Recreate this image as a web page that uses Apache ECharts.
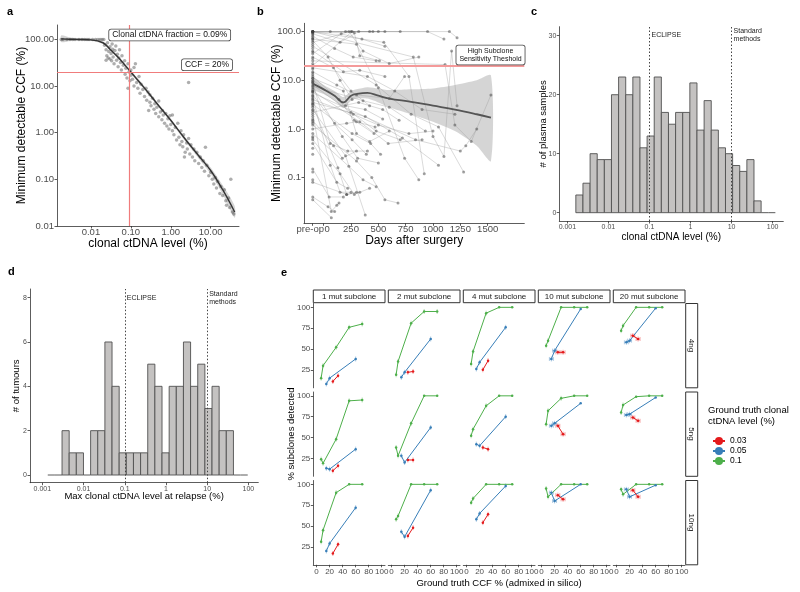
<!DOCTYPE html>
<html>
<head>
<meta charset="utf-8">
<script src="https://cdn.jsdelivr.net/npm/echarts@6/dist/echarts.min.js"></script>
<style>
html,body{margin:0;padding:0;background:#fff;}
#main{width:800px;height:592px;}
</style>
</head>
<body>
<div id="main"></div>
<script>
// ---- panel a: clonal ctDNA level (%) vs minimum detectable CCF (%) ----
var aPoints = [
  [0.0018,100],[0.002,100],[0.0025,100],[0.003,100],[0.0035,100],[0.004,100],[0.005,100],[0.006,100],
  [0.007,100],[0.008,100],[0.009,100],[0.011,100],[0.013,100],[0.015,100],[0.017,100],[0.019,100],[0.021,100],
  [0.022,75],[0.024,60],[0.025,45],[0.026,85],[0.028,55],[0.03,70],[0.03,38],[0.032,50],[0.034,80],[0.035,62],
  [0.036,42],[0.038,30],[0.04,58],[0.042,72],[0.044,36],[0.046,48],[0.048,26],[0.05,40],[0.052,60],[0.055,32],
  [0.058,22],[0.06,45],[0.024,36],[0.027,40],[0.033,35],
  [0.065,28],[0.07,35],[0.072,18],[0.075,24],[0.08,15],[0.085,30],[0.09,20],[0.095,13],[0.1,22],[0.1,17],
  [0.11,14],[0.12,25],[0.12,10],[0.13,30],[0.14,12],[0.15,9],[0.16,16],[0.17,7],[0.18,11],[0.2,8.5],[0.085,9],
  [0.22,6],[0.24,9],[0.25,5],[0.27,7.5],[0.3,4.5],[0.3,6.5],[0.32,3.8],[0.35,5.5],[0.38,3.2],[0.4,4.2],[0.42,2.6],
  [0.45,3.5],[0.5,2.2],[0.5,4.8],[0.55,2.8],[0.6,1.9],[0.62,3],[0.65,2.4],[0.7,1.6],[0.75,2.6],[0.8,1.4],[0.85,2],
  [0.9,1.2],[0.95,2.3],[1,1.5],[0.28,3],
  [1.1,1.1],[1.1,2.4],[1.2,0.9],[1.3,1.3],[1.4,0.7],[1.5,1.6],[1.6,0.8],[1.7,0.55],[1.8,1.1],[2.8,12],[2,0.5],
  [2.1,0.9],[2.3,0.38],[2.5,0.6],[2.6,0.45],[2.8,0.75],[3,0.35],[3.2,0.55],[3.5,0.3],[3.8,0.45],[4,0.25],[4.5,0.38],
  [5,0.22],[2.2,0.3],[1.9,0.65],
  [5.5,0.3],[6,0.18],[6.5,0.25],[7,0.15],[7.4,0.49],[8,0.2],[9,0.12],[10,0.14],[11,0.1],[12,0.08],[13,0.11],
  [14,0.065],[15,0.09],[17,0.05],[18,0.07],[20,0.045],[22,0.06],[24,0.035],[25,0.028],[28,0.04],[30,0.025],
  [35,0.02],[38,0.018],[32,0.1]
];
var aFitX  = [0.0018, 0.003, 0.005, 0.01, 0.02, 0.03, 0.05, 0.1, 0.2, 0.5, 1, 2, 5, 10, 20, 40];
var aFitY  = [103, 101, 100, 98, 85, 62, 40, 20, 10, 3.8, 1.85, 0.85, 0.32, 0.155, 0.06, 0.02];
var aFitLo = [88, 93, 95, 94, 80, 58, 37, 18.5, 9.2, 3.5, 1.7, 0.77, 0.28, 0.13, 0.048, 0.015];
var aFitHi = [122, 110, 106, 103, 90, 66, 43, 21.5, 10.9, 4.1, 2.0, 0.93, 0.36, 0.18, 0.075, 0.027];
var aClonalCut = 0.09, aCcfCut = 20;

// ---- panel b: days after surgery (pre-op drawn at -100) ----
var bPreop = -100;
var bDayTicks = [0, 250, 500, 750, 1000, 1250, 1500];
var bTracks = [
  [[-100,100],[60,100],[250,100],[500,100]],
  [[-100,100],[200,100],[420,100],[700,100]],
  [[-100,90],[150,60],[320,100],[560,100]],
  [[-100,80],[100,45],[270,30],[480,25]],
  [[-100,100],[950,100],[1100,70]],
  [[-100,100],[1150,100],[1220,75]],
  [[-100,60],[230,100],[360,40],[600,22],[870,30]],
  [[-100,40],[180,15],[330,16],[560,12]],
  [[-100,30],[90,18],[250,6],[420,3]],
  [[-100,20],[260,100],[450,100]],
  [[-100,15],[120,8],[300,5],[600,4.2],[740,12]],
  [[-100,12],[200,3],[380,2.5],[540,1.6]],
  [[-100,10],[140,4],[280,1.5],[460,0.8]],
  [[-100,9],[60,0.5],[220,0.35],[400,0.35]],
  [[-100,8],[250,2.2],[480,0.9],[700,0.6]],
  [[-100,7],[170,0.7],[310,0.25],[500,0.2]],
  [[-100,6],[330,1.4],[590,0.5],[900,0.6]],
  [[-100,5],[100,1.3],[260,0.6],[390,0.3]],
  [[-100,4.5],[60,0.18],[150,0.05],[250,0.05]],
  [[-100,4],[270,2],[500,1.2],[780,0.8],[1000,0.9]],
  [[-100,3.5],[380,1.8],[720,0.65],[1050,0.18]],
  [[-100,3],[130,0.16],[210,0.045],[330,0.05]],
  [[-100,2.5],[200,0.28],[380,0.017]],
  [[-100,2],[70,0.02],[120,0.027],[140,0.03]],
  [[-100,1.5],[90,0.45],[170,0.25],[300,0.35]],
  [[-100,1.2],[300,0.22],[440,0.1],[560,0.035],[680,0.03]],
  [[-100,0.8],[230,0.17],[360,0.09],[480,0.065]],
  [[-100,0.6],[150,0.12],[280,0.045],[420,0.06]],
  [[-100,0.15],[50,0.04],[180,0.04]],
  [[-100,0.08],[210,0.045],[300,0.05]],
  [[-100,0.04],[40,0.025],[100,0.02]],
  [[-100,0.035],[70,0.015]],
  [[-100,100],[820,30],[1000,0.7],[1100,0.27],[1170,40],[1220,3]],
  [[-100,25],[1110,21],[1200,1.2],[1350,0.55],[1530,5]],
  [[-100,5.5],[840,0.6],[1250,0.35],[1300,0.45],[1400,1]],
  [[-100,50],[480,8],[800,2],[1050,1.1],[1280,0.13]],
  [[-100,18],[400,12],[650,6],[900,2.5],[1200,2]],
  [[-100,100],[550,60],[780,12],[920,0.12]],
  [[-100,70],[300,55],[500,7],[740,0.25],[870,0.09]],
  [[-100,35],[160,90],[350,70],[560,50]],
  [[-100,11],[180,6],[300,0.8],[420,0.55],[600,0.9]],
  [[-100,2.2],[320,3.5],[540,2.5],[690,1.5]],
  [[-100,1],[210,1.3],[300,1.4],[470,1.1]],
  [[-100,65],[40,30],[150,10],[260,4]],
  [[-100,95],[280,95],[330,32],[510,25]],
  [[-100,3.2],[260,0.8],[430,0.5],[520,0.3]],
  [[-100,0.5],[120,0.08],[220,0.06]],
  [[-100,7.5],[360,3.8],[600,2.8],[930,0.9]]
];
var bPreopOnly = [100,95,85,75,70,55,45,38,28,22,17,14,13,11,9.5,8.8,6.5,6,5.8,4.8,4.2,3.8,3.3,2.8,2.4,1.8,1.6,1.4,1.3,0.7,0.65,0.4,0.3,0.13,0.09];
var bFitDays = [-100, 0, 100, 180, 250, 300, 400, 500, 600, 800, 1000, 1200, 1400, 1530];
var bFitY    = [8.5, 6.5, 4.8, 3.5, 4.8, 5.2, 5.5, 4.8, 4.2, 3.6, 3.0, 2.5, 2.0, 1.7];
var bFitLo   = [6.5, 5.2, 3.8, 2.7, 3.8, 4.2, 4.2, 3.5, 2.8, 2.0, 1.4, 0.9, 0.45, 0.22];
var bFitHi   = [11, 8, 6, 4.5, 6, 6.5, 7.2, 6.8, 6.3, 6.5, 6.8, 8, 10, 12.5];
var bThreshold = 20;

// ---- panels c, d: histograms on log10 bins ----
var cBinLo = -2.794, cBinW = 0.1736;
var cCounts = [3,5,10,9,9,20,23,20,23,11,13,23,17,15,17,17,22,14,19,14,11,10,8,7,9,2,0,0];
var dBinLo = -2.869, dBinW = 0.1733;
var dCounts = [0,0,2,1,1,0,2,2,6,4,1,1,1,1,5,4,1,4,4,6,4,5,3,4,2,2,0,0];
var cutLines = [0.1, 10];
var logTickText = ['0.001','0.01','0.1','1','10','100'];

// ---- panel e: % subclones detected vs ground-truth CCF ----
var eCols = ['1 mut subclone','2 mut subclone','4 mut subclone','10 mut subclone','20 mut subclone'];
var eRows = ['4ng','5ng','10ng'];
var eX01  = [7, 10, 30, 50, 70];
var eX005 = [15, 20, 60];
var eX003 = [25, 33];
var eY01 = [
  [[15,30,52,76,80],[19,35,81,95,95],[32,47,93,100,100],[54,60,100,100,100],[72,78,100,100,100]],
  [[24,19,48,94,95],[38,28,67,100,100],[52,60,88,100,100],[66,82,97,100,100],[80,89,99,100,100]],
  [[31,45,90,100,100],[58,62,100,100,100],[78,83,100,100,100],[95,85,100,100,100],[94,88,100,100,100]]
];
var eY005 = [
  [[8,15,38],[16,22,62],[26,34,76],[38,48,98],[58,60,99]],
  [[13,12,36],[28,20,62],[42,40,75],[64,67,91],[77,78,98]],
  [[20,29,72],[43,37,93],[58,65,98],[90,80,100],[94,85,99]]
];
var eY003 = [
  [[11,18],[22,23],[25,36],[46,46],[66,62]],
  [[10,16],[23,23],[38,36],[64,54],[74,70]],
  [[17,28],[38,48],[54,64],[87,82],[93,85]]
];
var eErrY = 3;   // typical half-height of the error bars (% detected)
var eErrX = 3;   // half-width of the horizontal bars on the low-level points (CCF %)
var eLevels = ['0.03','0.05','0.1'];
var eColors = {'0.03':'#E41A1C','0.05':'#377EB8','0.1':'#4DAF4A'};

// ------------------------------------------------------------------
(function () {
var L = Math.log10;
var FONT = 'Liberation Sans, Arial, Helvetica, sans-serif';
var INK = '#333333', TICK = '#4d4d4d';
var chart = echarts.init(document.getElementById('main'));
var grids = [], xAxes = [], yAxes = [], series = [], graphic = [], extraX = [];

function ax(gi, min, max, vals, fmt, fs, show, extra, margin) {
  var lab = {show: show[2], customValues: vals, fontSize: fs, color: TICK,
             margin: margin == null ? 3 : margin, hideOverlap: false, fontFamily: FONT};
  if (fmt) lab.formatter = fmt;
  return Object.assign({
    type: 'value', gridIndex: gi, min: min, max: max,
    axisLine: {show: show[0], onZero: false, lineStyle: {color: INK, width: 0.8}},
    axisTick: {show: show[1], length: 2.5, customValues: vals, lineStyle: {color: INK, width: 0.8}},
    axisLabel: lab,
    splitLine: {show: false}
  }, extra || {});
}
function nm(text, gap, fs) {
  return {name: text, nameLocation: 'middle', nameGap: gap, nameMoveOverlap: false,
          nameTextStyle: {fontSize: fs, color: '#000', fontFamily: FONT}};
}
function addGrid(l, t, w, h) {
  grids.push({left: l, top: t, width: w, height: h, outerBoundsMode: 'none', containLabel: false});
  return grids.length - 1;
}
function band(gi, xs, lo, hi, fill) {
  return {type: 'custom', xAxisIndex: gi, yAxisIndex: gi, silent: true, z: 1, data: [[xs[0], lo[0]]],
    renderItem: function (p, api) {
      var pts = [], i;
      for (i = 0; i < xs.length; i++) pts.push(api.coord([xs[i], lo[i]]));
      for (i = xs.length - 1; i >= 0; i--) pts.push(api.coord([xs[i], hi[i]]));
      return {type: 'polygon', shape: {points: pts, smooth: 0.25}, style: {fill: fill}};
    }};
}
function hist(gi, lo, w, counts) {
  return {type: 'custom', xAxisIndex: gi, yAxisIndex: gi, silent: true,
    data: counts.map(function (c, i) { return [lo + i * w, lo + (i + 1) * w, c]; }),
    encode: {x: [0, 1], y: 2},
    renderItem: function (p, api) {
      var a = api.coord([api.value(0), 0]), b = api.coord([api.value(1), api.value(2)]);
      if (api.value(2) === 0)
        return {type: 'line', shape: {x1: a[0], y1: a[1], x2: b[0], y2: a[1]}, style: {stroke: '#5a5a5a', lineWidth: 1}};
      return {type: 'rect', shape: {x: a[0], y: b[1], width: b[0] - a[0], height: a[1] - b[1]},
              style: {fill: '#c4c2c1', stroke: '#505050', lineWidth: 0.9}};
    }};
}
function cutMarks(gi, topY) {
  return {type: 'scatter', xAxisIndex: gi, yAxisIndex: gi, data: [], silent: true,
    markLine: {silent: true, symbol: 'none', label: {show: false}, animation: false,
      lineStyle: {color: '#444', type: [1.5, 2], width: 1},
      data: cutLines.map(function (v) { return {xAxis: L(v)}; })},
    markPoint: {symbolSize: 0, silent: true, animation: false,
      label: {show: true, position: 'right', distance: 2, fontSize: 7, lineHeight: 8, color: '#222', fontFamily: FONT},
      data: [{coord: [L(cutLines[0]), topY], label: {formatter: 'ECLIPSE'}},
             {coord: [L(cutLines[1]), topY], label: {formatter: 'Standard\nmethods'}}]}};
}
function errBars(gi, pts, color, horiz) {
  return {type: 'custom', xAxisIndex: gi, yAxisIndex: gi, silent: true, z: 1,
    data: pts, encode: {x: 0, y: 1},
    renderItem: function (p, api) {
      var x = api.value(0), y = api.value(1), kids = [];
      var st = {stroke: color, lineWidth: 1, opacity: 0.4};
      if (y < 99) {
        var a = api.coord([x, y - eErrY]), b = api.coord([x, y + eErrY]);
        kids.push({type: 'line', shape: {x1: a[0], y1: a[1], x2: b[0], y2: b[1]}, style: st});
      }
      if (horiz) {
        var c = api.coord([x - eErrX, y]), d = api.coord([x + eErrX, y]);
        kids.push({type: 'line', shape: {x1: c[0], y1: c[1], x2: d[0], y2: d[1]}, style: st});
        kids.push({type: 'line', shape: {x1: c[0], y1: c[1] - 2, x2: c[0], y2: c[1] + 2}, style: st});
        kids.push({type: 'line', shape: {x1: d[0], y1: d[1] - 2, x2: d[0], y2: d[1] + 2}, style: st});
      }
      return {type: 'group', children: kids};
    }};
}
function panelLabel(t, x, y) {
  graphic.push({type: 'text', left: x, top: y, style: {text: t, font: 'bold 11px ' + FONT, fill: '#000'}});
}

// ---- a ----
var ga = addGrid(57, 25, 182, 201);
xAxes.push(ax(ga, -2.85, 1.71, [-2, -1, 0, 1], function (v) { return Math.pow(10, v).toFixed(2); }, 9.5,
  [true, true, true], nm('clonal ctDNA level (%)', 12, 12), 1.5));
yAxes.push(ax(ga, -2, 2.31, [-2, -1, 0, 1, 2], function (v) { return Math.pow(10, v).toFixed(2); }, 9.5,
  [true, true, true], nm('Minimum detectable CCF (%)', 29, 12), 3));
series.push(band(ga, aFitX.map(L), aFitLo.map(L), aFitHi.map(L), 'rgba(160,160,160,0.45)'));
series.push({type: 'scatter', xAxisIndex: ga, yAxisIndex: ga, symbolSize: 3.5, silent: true,
  itemStyle: {color: 'rgba(70,70,70,0.55)'},
  data: aPoints.map(function (p) { return [L(p[0]), L(p[1])]; }),
  markLine: {silent: true, symbol: 'none', label: {show: false}, animation: false,
    lineStyle: {color: '#f07c7c', type: 'solid', width: 1.2},
    data: [{xAxis: L(aClonalCut)}, {yAxis: L(aCcfCut)}]},
  markPoint: {symbolSize: 0, silent: true, animation: false,
    label: {show: true, position: 'inside', fontSize: 8.5, color: '#111', fontFamily: FONT,
      backgroundColor: '#fff', borderColor: '#444', borderWidth: 0.8, borderRadius: 2, padding: [1, 3]},
    data: [{coord: [-0.026, 2.096], label: {formatter: 'Clonal ctDNA fraction = ' + aClonalCut + '%'}},
           {coord: [0.908, 1.459], label: {formatter: 'CCF = ' + aCcfCut + '%'}}]}});
series.push({type: 'line', xAxisIndex: ga, yAxisIndex: ga, smooth: 0.4, showSymbol: false, silent: true, z: 3,
  lineStyle: {color: '#333', width: 1.4}, data: aFitX.map(function (x, i) { return [L(x), L(aFitY[i])]; })});

// ---- b ----
var gb = addGrid(304, 23.3, 220.3, 200);
xAxes.push(ax(gb, -180, 1835, bDayTicks,
  function (v) { var s = String(Math.round(v)); return s === '0' ? '{z|0}' : s; }, 9.5,
  [true, true, true], nm('Days after surgery', 11, 12), 1.5));
xAxes[xAxes.length - 1].axisLabel.rich = {z: {fontSize: 9.5, color: TICK, padding: [0, 0, 0, 7], fontFamily: FONT}};
extraX.push(ax(gb, -180, 1835, [bPreop], function () { return '{p|pre-op}'; }, 9.5, [false, true, true],
  {position: 'bottom'}, 1.5));
extraX[0].axisLabel.rich = {p: {fontSize: 9.5, color: TICK, padding: [0, 5, 0, 0], fontFamily: FONT}};
yAxes.push(ax(gb, -1.94, 2.17, [-1, 0, 1, 2], function (v) { return Math.pow(10, v).toFixed(1); }, 9.5,
  [true, true, true], nm('Minimum detectable CCF (%)', 21, 12), 3));
bTracks.forEach(function (t) {
  series.push({type: 'line', xAxisIndex: gb, yAxisIndex: gb, showSymbol: false, silent: true, z: 1,
    lineStyle: {color: 'rgba(150,150,150,0.45)', width: 0.8},
    data: t.map(function (p) { return [p[0], L(p[1])]; })});
});
var bAll = [];
bTracks.forEach(function (t) { t.forEach(function (p) { bAll.push([p[0], L(p[1])]); }); });
bPreopOnly.forEach(function (v) { bAll.push([bPreop, L(v)]); });
series.push({type: 'scatter', xAxisIndex: gb, yAxisIndex: gb, symbolSize: 3, silent: true, z: 2,
  itemStyle: {color: 'rgba(60,60,60,0.6)'}, data: bAll,
  markLine: {silent: true, symbol: 'none', label: {show: false}, animation: false,
    lineStyle: {color: '#f49a9a', type: 'solid', width: 2}, data: [{yAxis: L(bThreshold)}]},
  markPoint: {symbolSize: 0, silent: true, animation: false,
    label: {show: true, position: 'inside', fontSize: 7, lineHeight: 8.5, color: '#111', fontFamily: FONT,
      backgroundColor: '#fff', borderColor: '#444', borderWidth: 0.8, borderRadius: 2, padding: [1, 3]},
    data: [{coord: [1526, 1.519], label: {formatter: 'High Subclone\nSensitivity Theshold'}}]}});
series.push(band(gb, bFitDays, bFitLo.map(L), bFitHi.map(L), 'rgba(150,150,150,0.4)'));
series.push({type: 'line', xAxisIndex: gb, yAxisIndex: gb, smooth: 0.4, showSymbol: false, silent: true, z: 4,
  lineStyle: {color: '#555', width: 1.8}, data: bFitDays.map(function (d, i) { return [d, L(bFitY[i])]; })});

// ---- c ----
var gc = addGrid(559.3, 26.7, 224, 194.3);
xAxes.push(ax(gc, -3.197, 2.26, [-3, -2, -1, 0, 1, 2], function (v) { return logTickText[Math.round(v) + 3]; }, 7,
  [true, true, true], nm('clonal ctDNA level (%)', 11, 10)));
yAxes.push(ax(gc, -1.41, 31.53, [0, 10, 20, 30], null, 7, [true, true, true], nm('# of plasma samples', 11, 9.5)));
series.push(hist(gc, cBinLo, cBinW, cCounts));
series.push(cutMarks(gc, 30.1));

// ---- d ----
var gd = addGrid(30, 289, 228.3, 193.7);
xAxes.push(ax(gd, -3.30, 2.24, [-3, -2, -1, 0, 1, 2], function (v) { return logTickText[Math.round(v) + 3]; }, 7,
  [true, true, true], nm('Max clonal ctDNA level at relapse (%)', 9, 9.5)));
yAxes.push(ax(gd, -0.347, 8.39, [0, 2, 4, 6, 8], null, 7, [true, true, true], nm('# of tumours', 9, 9.5)));
series.push(hist(gd, dBinLo, dBinW, dCounts));
series.push(cutMarks(gd, 8.0));

// ---- e ----
for (var r = 0; r < 3; r++) {
  for (var c = 0; c < 5; c++) {
    var cellLeft = 313.3 + 75 * c, cellTop = 303.5 + 88.5 * r;
    var g = addGrid(cellLeft, cellTop, 71.7, 84.3);
    xAxes.push(ax(g, -5, 105, [0, 20, 40, 60, 80, 100], null, 8, [r === 2, r === 2, r === 2], {}));
    yAxes.push(ax(g, 3.4, 104.6, [25, 50, 75, 100], null, 8, [c === 0, c === 0, c === 0], {}));
    [['0.1', eX01, eY01], ['0.05', eX005, eY005], ['0.03', eX003, eY003]].forEach(function (s) {
      var ys = s[2][r][c];
      var pts = s[1].map(function (x, i) { return [x, ys[i]]; });
      var col = eColors[s[0]];
      series.push(errBars(g, s[0] === '0.05' && c >= 3 ? pts.slice(0, 2) : pts,
        col, s[0] === '0.03' ? c >= 3 : (s[0] === '0.05' && c >= 3)));
      series.push({type: 'line', name: s[0], xAxisIndex: g, yAxisIndex: g, silent: true, z: 2,
        symbol: 'circle', symbolSize: 2.5, showSymbol: true,
        lineStyle: {color: col, width: 1}, itemStyle: {color: col}, data: pts});
    });
    if (r === 0) {
      graphic.push({type: 'rect', shape: {x: cellLeft, y: 290, width: 71.7, height: 12.7},
        style: {fill: '#fff', stroke: INK, lineWidth: 1}});
      graphic.push({type: 'text', x: cellLeft + 35.85, y: 296.6,
        style: {text: eCols[c], font: '8px ' + FONT, fill: '#1a1a1a', align: 'center', verticalAlign: 'middle'}});
    }
    if (c === 4) {
      graphic.push({type: 'rect', shape: {x: 685.7, y: cellTop, width: 12, height: 84.3},
        style: {fill: '#fff', stroke: INK, lineWidth: 1}});
      graphic.push({type: 'text', x: 691.7, y: cellTop + 42, rotation: -Math.PI / 2,
        style: {text: eRows[r], font: '8px ' + FONT, fill: '#1a1a1a', align: 'center', verticalAlign: 'middle'}});
    }
  }
}
extraX.forEach(function (a) { xAxes.push(a); });

graphic.push({type: 'text', x: 291, y: 434, rotation: Math.PI / 2,
  style: {text: '% subclones detected', font: '9.5px ' + FONT, fill: '#000', align: 'center', verticalAlign: 'middle'}});
graphic.push({type: 'text', x: 499, y: 583,
  style: {text: 'Ground truth CCF % (admixed in silico)', font: '9.5px ' + FONT, fill: '#000', align: 'center', verticalAlign: 'middle'}});
graphic.push({type: 'text', left: 708, top: 405,
  style: {text: 'Ground truth clonal\nctDNA level (%)', font: '9.5px ' + FONT, lineHeight: 11, fill: '#000'}});

panelLabel('a', 7, 6);
panelLabel('b', 257, 6);
panelLabel('c', 531, 6);
panelLabel('d', 8, 266);
panelLabel('e', 281, 267);

chart.setOption({
  animation: false,
  textStyle: {fontFamily: FONT},
  grid: grids, xAxis: xAxes, yAxis: yAxes, series: series, graphic: graphic,
  legend: {data: eLevels, orient: 'vertical', left: 707, top: 431.5, itemWidth: 12, itemHeight: 10, itemGap: 1,
    selectedMode: false, textStyle: {fontSize: 8.5, color: '#000', fontFamily: FONT}}
});
})();
</script>
</body>
</html>
